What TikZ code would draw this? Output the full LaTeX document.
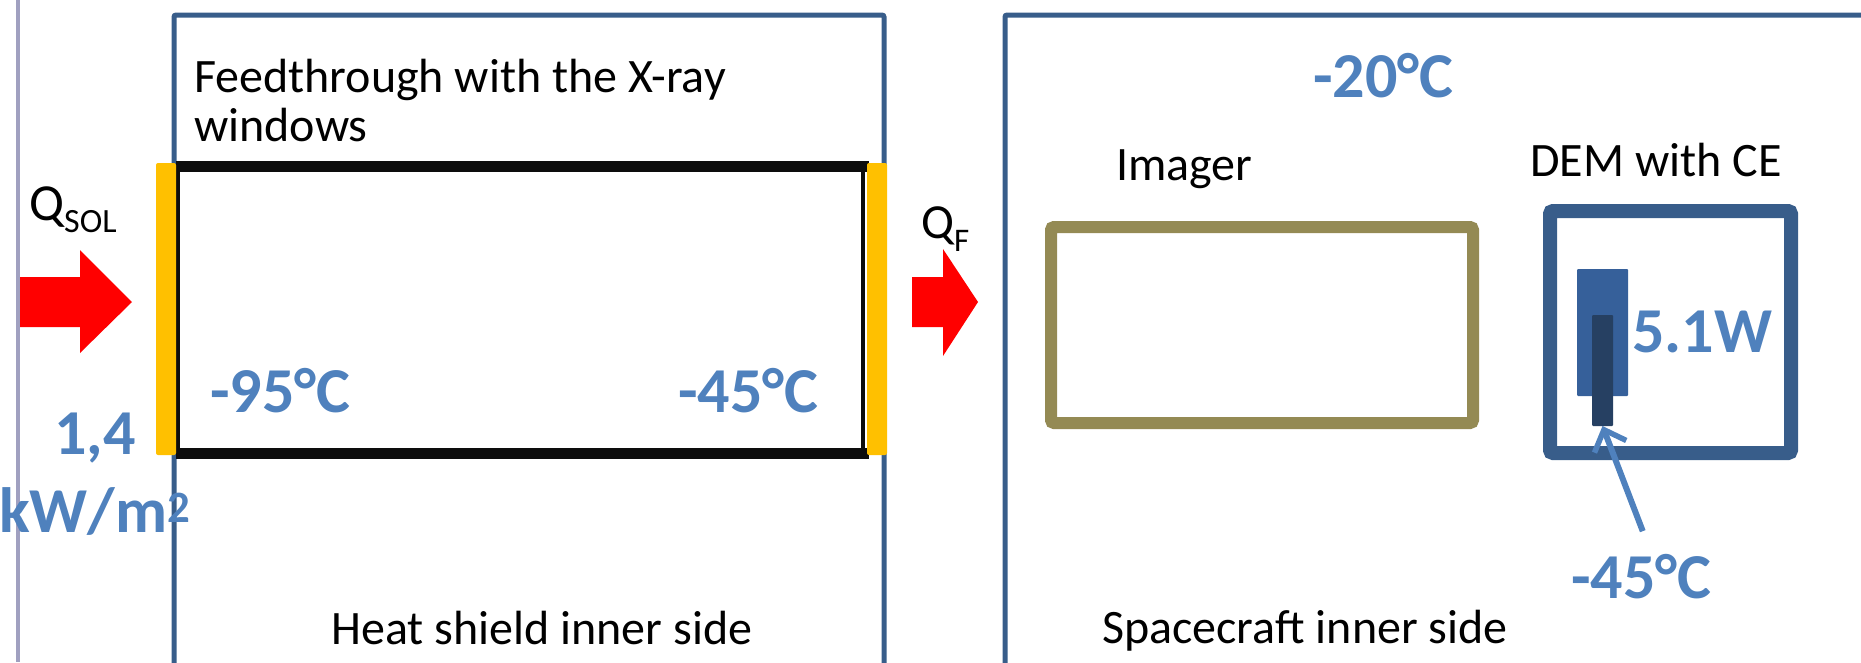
\documentclass[tikz,border=0pt]{standalone}
\usepackage{fontspec}
\setmainfont{Carlito}
\usepackage{xcolor}
\usepackage{tikz}
\usetikzlibrary{arrows.meta}

\definecolor{frameblue}{HTML}{385D8A}
\definecolor{tempblue}{HTML}{4F81BD}
\definecolor{winyellow}{HTML}{FFC000}
\definecolor{imagerolive}{HTML}{948A54}
\definecolor{demblue}{HTML}{36609A}
\definecolor{chipblue}{HTML}{264062}
\definecolor{rulegrey}{RGB}{160,160,192}

\begin{document}
\begin{tikzpicture}[x=1pt, y=-1pt,
  lbl/.style={inner sep=0pt, anchor=base west, font=\fontsize{48}{50}\selectfont},
  temp/.style={inner sep=0pt, anchor=base west, text=tempblue, font=\fontsize{64}{78}\selectfont\bfseries},
  wall/.style={draw=frameblue, line width=5pt, rounded corners=2pt},
  bar/.style={fill=winyellow, rounded corners=2pt},
  heat/.style={fill=red},
  unit/.style={inner sep=0pt, outer sep=0pt, rounded corners=3pt}]
\useasboundingbox (0,0) rectangle (1861,662);

\draw[rulegrey, line width=4pt] (18,0) -- (18,662);
\draw[wall] (174,670) -- (174,15) -- (884,15) -- (884,670);
\draw[wall] (1005,670) -- (1005,15) -- (1875,15);

\draw[line width=3.5pt, black!95] (178,166) rectangle (863,453);
\draw[line width=11pt, black!95] (176,166) -- (869,166) (176,453) -- (869,453);
\fill[bar] (156,163) rectangle (176,455);
\fill[bar] (867,163) rectangle (887,455);

\fill[heat] (20,277) -- (80,277) -- (80,250) -- (132,302) -- (80,353) -- (80,327) -- (20,327) -- cycle;
\fill[heat] (912,277) -- (943,277) -- (943,249) -- (978,302) -- (943,356) -- (943,327) -- (912,327) -- cycle;

\node[lbl, font=\fontsize{52}{52}\selectfont] (qsol) at (29,220) {Q\raisebox{-12pt}{\fontsize{34}{34}\selectfont SOL}};
\node[lbl, font=\fontsize{49}{49}\selectfont] (qf) at (921,238) {Q\raisebox{-13pt}{\fontsize{33}{33}\selectfont F}};

\node[lbl] (feed) at (194,92) {Feedthrough with the X-ray};
\node[lbl] (feedb) at (194,141) {windows};
\node[temp] (tcold) at (210,412) {-95°C};
\node[temp] (twarm) at (678,412) {-45°C};
\node[temp, anchor=base] (flux) at (95,454) {1,4};
\node[temp, anchor=base] (fluxunit) at (95,532) {kW/m\textsuperscript{2}};
\node[lbl] (shield) at (331,644) {Heat shield inner side};

\node[temp] (tcraft) at (1313,97) {-20°C};
\node[lbl] (imglbl) at (1116,180) {Imager};
\node[lbl] (demlbl) at (1530,176) {DEM with CE};
\node[unit, draw=imagerolive, line width=12pt, minimum width=422pt, minimum height=196pt] (imager) at (1262,325) {};
\node[unit, draw=frameblue, line width=14pt, minimum width=241pt, minimum height=242pt] (dem) at (1670.5,332) {};
\node[unit, fill=demblue, minimum width=51pt, minimum height=127pt, rounded corners=1pt] (demcore) at (1602.5,332.5) {};
\node[unit, fill=chipblue, minimum width=21pt, minimum height=111pt, rounded corners=1pt] (chip) at (1602.5,370.5) {};
\node[temp] (power) at (1632,352) {5.1W};
\node[temp] (tchip) at (1571,598) {-45°C};
\node[lbl] (craft) at (1102,643) {Spacecraft inner side};

\draw[tempblue, line width=6pt, shorten <=24pt, -{Straight Barb[length=18pt, width=34pt, line width=5.5pt]}] ([xshift=10pt]tchip.north) -- (chip.south);
\end{tikzpicture}
\end{document}
